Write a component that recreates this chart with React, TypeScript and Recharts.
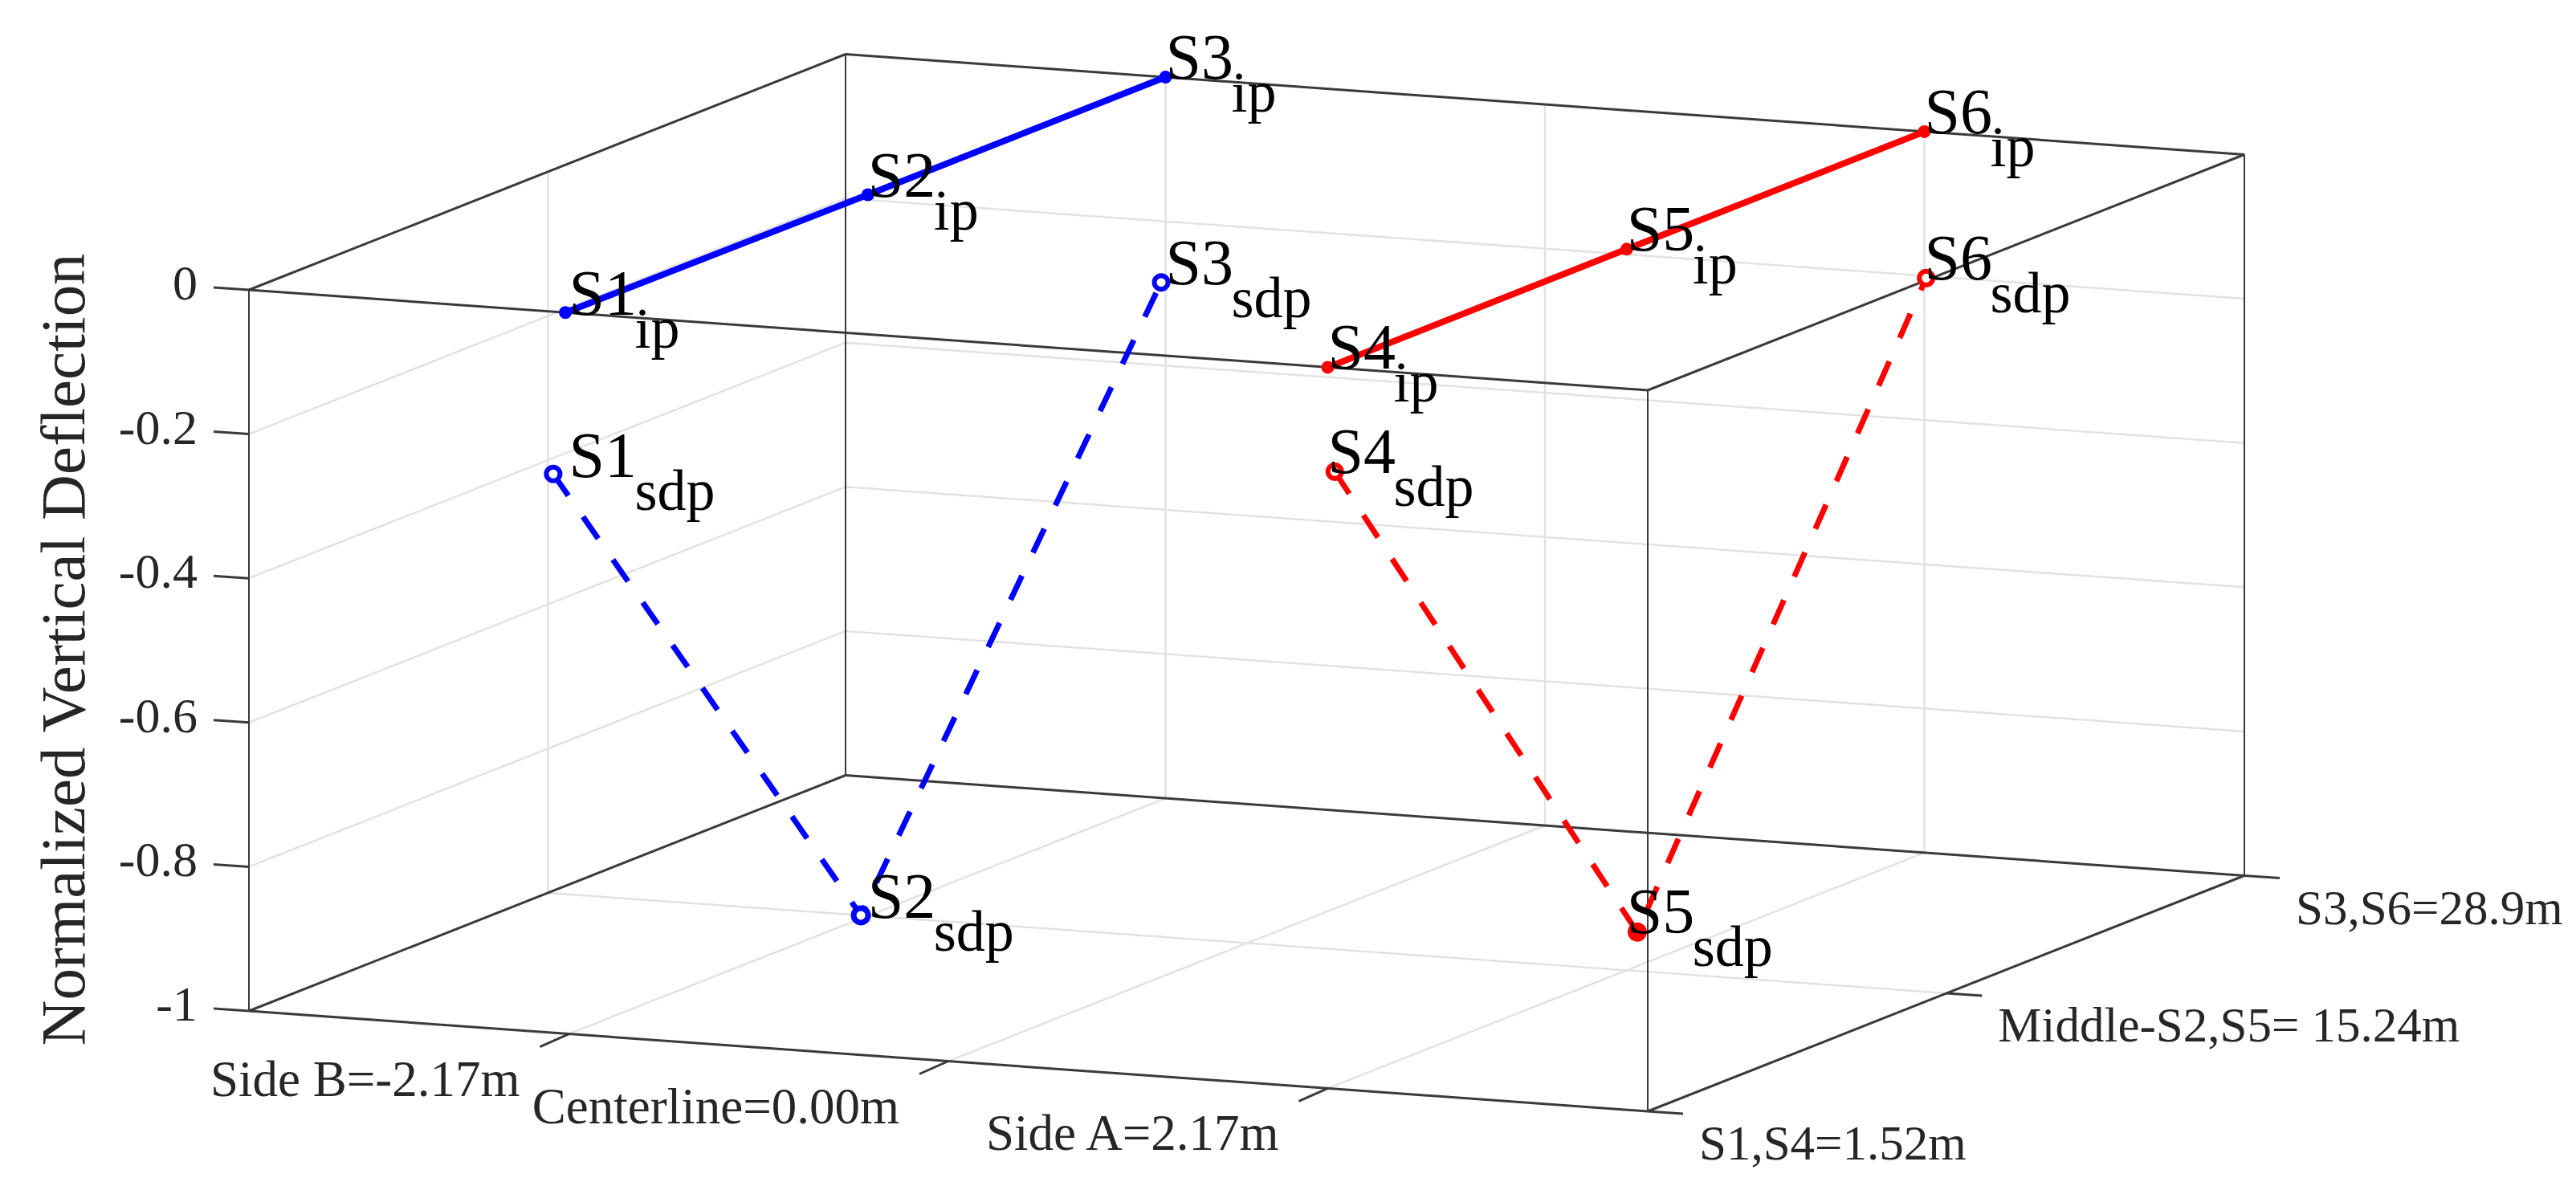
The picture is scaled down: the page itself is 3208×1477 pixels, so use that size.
import { ScatterChart, Scatter, XAxis, YAxis } from 'recharts';

const WIDTH = 3208;
const HEIGHT = 1477;

// axis ranges of the 3d box
const lateralRange = [-4, 4];
const spanRange = [1.52, 28.9];
const deflectionRange = [-1, 0];

const lateralTicks = [-2.17, 0, 2.17];
const lateralTickLabels = ['Side B=-2.17m', 'Centerline=0.00m', 'Side A=2.17m'];
const spanTicks = [1.52, 15.24, 28.9];
const spanTickLabels = ['S1,S4=1.52m', 'Middle-S2,S5= 15.24m', 'S3,S6=28.9m'];
const deflectionTicks = [0, -0.2, -0.4, -0.6, -0.8, -1];
const deflectionTickLabels = ['0', '-0.2', '-0.4', '-0.6', '-0.8', '-1'];

const blueStations = ['S1', 'S2', 'S3'];
const redStations = ['S4', 'S5', 'S6'];
const stationSpans = [1.52, 15.24, 28.9];

const blueIpLateral = [-2.19, -2.17, -2.17];
const blueIpDeflection = [0, 0, 0];
const redIpLateral = [2.17, 2.17, 2.17];
const redIpDeflection = [0, 0, 0];

const blueSdpLateral = [-2.26, -2.21, -2.195];
const blueSdpDeflection = [-0.225, -1.0, -0.285];
const redSdpLateral = [2.21, 2.23, 2.18];
const redSdpDeflection = [-0.144, -0.946, -0.203];

const BOX = '#3a3a3a';
const GRID = '#e2e2e2';
const TICK_TEXT = '#262626';
const SERIF = '"Liberation Serif", serif';

// view of the MATLAB 3d axes, goes from data units to the flat plane of the chart
function project(lateral: number, span: number, deflection: number, dx = 0, dy = 0) {
  const u = (lateral - lateralRange[0]) / (lateralRange[1] - lateralRange[0]);
  const v = (span - spanRange[0]) / (spanRange[1] - spanRange[0]);
  return {
    px: 310 + 1742 * u + 743 * v + dx,
    py: 361 + 125 * u - 293.5 * v - 898 * deflection + dy,
  };
}

const [latMin, latMax] = lateralRange;
const [spanMin, spanMax] = spanRange;
const [defMin, defMax] = deflectionRange;

const horizontalEdges = [
  [project(latMin, spanMin, defMax), project(latMax, spanMin, defMax)],
  [project(latMin, spanMax, defMax), project(latMax, spanMax, defMax)],
  [project(latMin, spanMin, defMax), project(latMin, spanMax, defMax)],
  [project(latMax, spanMin, defMax), project(latMax, spanMax, defMax)],
  [project(latMin, spanMin, defMin), project(latMax, spanMin, defMin)],
  [project(latMin, spanMax, defMin), project(latMax, spanMax, defMin)],
  [project(latMin, spanMin, defMin), project(latMin, spanMax, defMin)],
  [project(latMax, spanMin, defMin), project(latMax, spanMax, defMin)],
];

const verticalEdges = [
  [project(latMin, spanMin, defMin), project(latMin, spanMin, defMax)],
  [project(latMax, spanMin, defMin), project(latMax, spanMin, defMax)],
  [project(latMin, spanMax, defMin), project(latMin, spanMax, defMax)],
  [project(latMax, spanMax, defMin), project(latMax, spanMax, defMax)],
];

const gridLines = [
  // deflection levels on the left and back walls
  ...deflectionTicks.slice(1, 5).flatMap(d => [
    [project(latMin, spanMin, d), project(latMin, spanMax, d)],
    [project(latMin, spanMax, d), project(latMax, spanMax, d)],
  ]),
  // lateral ticks on the floor and back wall
  ...lateralTicks.flatMap(l => [
    [project(l, spanMin, defMin), project(l, spanMax, defMin)],
    [project(l, spanMax, defMin), project(l, spanMax, defMax)],
  ]),
  // middle span on the floor and left wall
  [project(latMin, 15.24, defMin), project(latMax, 15.24, defMin)],
  [project(latMin, 15.24, defMin), project(latMin, 15.24, defMax)],
];

const tickMarks = [
  ...deflectionTicks.map(d => [project(latMin, spanMin, d), project(latMin, spanMin, d, -44, -3)]),
  ...lateralTicks.map(l => [project(l, spanMin, defMin), project(l, spanMin, defMin, -36, 16)]),
  ...spanTicks.map(s => [project(latMax, s, defMin), project(latMax, s, defMin, 44, 3)]),
];

const makeSeries = (stations: string[], lateral: number[], deflection: number[]) =>
  stations.map((name, i) => ({ name, ...project(lateral[i], stationSpans[i], deflection[i]) }));

const blueIp = makeSeries(blueStations, blueIpLateral, blueIpDeflection);
const redIp = makeSeries(redStations, redIpLateral, redIpDeflection);
const blueSdp = makeSeries(blueStations, blueSdpLateral, blueSdpDeflection);
const redSdp = makeSeries(redStations, redSdpLateral, redSdpDeflection);

// station labels sit on the nominal lateral position, only the height follows the point
const stationLabels = (stations: string[], nominal: number, deflection: number[], sub: string) =>
  stations.map((name, i) => ({ name, sub, ...project(nominal, stationSpans[i], deflection[i], 0, 2) }));

const labelRows = [
  ...stationLabels(blueStations, -2.17, blueIpDeflection, 'ip'),
  ...stationLabels(redStations, 2.17, redIpDeflection, 'ip'),
  ...stationLabels(blueStations, -2.17, blueSdpDeflection, 'sdp'),
  ...stationLabels(redStations, 2.17, redSdpDeflection, 'sdp'),
];

const deflectionLabelRows = deflectionTicks.map((d, i) => ({
  text: deflectionTickLabels[i],
  ...project(latMin, spanMin, d, -64, 12),
}));
const lateralLabelRows = lateralTicks.map((l, i) => ({
  text: lateralTickLabels[i],
  ...project(l, spanMin, defMin, -61, 77),
}));
const spanLabelRows = spanTicks.map((s, i) => ({
  text: spanTickLabels[i],
  ...project(latMax, s, defMin, 64, 60),
}));

const noMark = () => <g />;

const ipMark = (color: string) => (props: any) => <circle cx={props.cx} cy={props.cy} r={8} fill={color} />;

const sdpMark = (color: string) => (props: any) => {
  const name = props.payload.name;
  if (name === 'S5') return <circle cx={props.cx} cy={props.cy} r={12} fill={color} />;
  return (
    <circle cx={props.cx} cy={props.cy} r={name === 'S2' ? 9 : 8.5} fill="#fff" stroke={color} strokeWidth={name === 'S2' ? 7 : 6} />
  );
};

const stationText = (props: any) => (
  <g fontFamily={SERIF} fill="#000">
    <text x={props.cx} y={props.cy} fontSize={80}>{props.payload.name}</text>
    <text x={props.cx + 82} y={props.cy + 41} fontSize={72}>{props.payload.sub}</text>
  </g>
);

const tickText = (anchor: string, size: number) => (props: any) => (
  <text x={props.cx} y={props.cy} textAnchor={anchor} fontFamily={SERIF} fontSize={size} fill={TICK_TEXT}>
    {props.payload.text}
  </text>
);

const yTitle = (props: any) => (
  <text
    transform={`translate(${props.cx} ${props.cy}) rotate(-90)`}
    textAnchor="middle"
    fontFamily={SERIF}
    fontSize={78}
    fill={TICK_TEXT}
    textLength={987}
    lengthAdjust="spacingAndGlyphs"
  >
    Normalized Vertical Deflection
  </text>
);

function segments(lines: { px: number; py: number }[][], prefix: string, stroke: string, strokeWidth: number) {
  return lines.map((pts, i) => (
    <Scatter
      key={`${prefix}-${i}`}
      data={pts}
      line={{ stroke, strokeWidth }}
      shape={noMark}
      isAnimationActive={false}
    />
  ));
}

export default function App() {
  return (
    <div style={{ position: 'absolute', left: 0, top: 0, width: WIDTH, height: HEIGHT, background: '#fff' }}>
      <ScatterChart width={WIDTH} height={HEIGHT} margin={{ top: 0, right: 0, bottom: 0, left: 0 }}>
        <XAxis type="number" dataKey="px" domain={[0, WIDTH]} hide />
        <YAxis type="number" dataKey="py" domain={[0, HEIGHT]} reversed hide />

        {segments(gridLines, 'grid', GRID, 2.5)}
        {segments(verticalEdges, 'vert', BOX, 2)}
        {segments(horizontalEdges, 'box', BOX, 3)}
        {segments(tickMarks, 'tick', BOX, 3)}

        <Scatter data={blueIp} line={{ stroke: '#0000ff', strokeWidth: 8 }} shape={ipMark('#0000ff')} isAnimationActive={false} />
        <Scatter data={redIp} line={{ stroke: '#ff0000', strokeWidth: 8 }} shape={ipMark('#ff0000')} isAnimationActive={false} />
        <Scatter data={blueSdp} line={{ stroke: '#0000ff', strokeWidth: 7, strokeDasharray: '33 32' }} shape={sdpMark('#0000ff')} isAnimationActive={false} />
        <Scatter data={redSdp} line={{ stroke: '#ff0000', strokeWidth: 7, strokeDasharray: '33 32' }} shape={sdpMark('#ff0000')} isAnimationActive={false} />

        <Scatter data={labelRows} shape={stationText} isAnimationActive={false} />
        <Scatter data={deflectionLabelRows} shape={tickText('end', 62)} isAnimationActive={false} />
        <Scatter data={lateralLabelRows} shape={tickText('end', 63)} isAnimationActive={false} />
        <Scatter data={spanLabelRows} shape={tickText('start', 61)} isAnimationActive={false} />
        <Scatter data={[{ px: 105, py: 809 }]} shape={yTitle} isAnimationActive={false} />
      </ScatterChart>
    </div>
  );
}
